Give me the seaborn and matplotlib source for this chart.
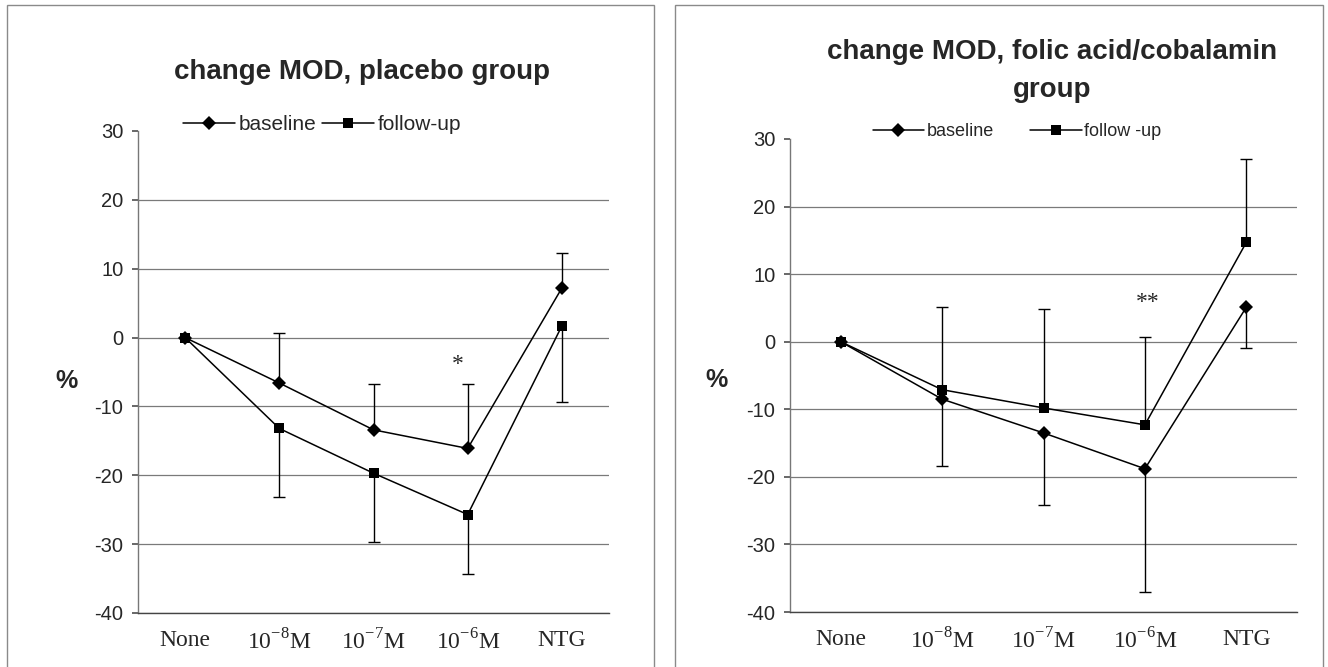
import numpy as np
import pandas as pd
import matplotlib
matplotlib.use("Agg")
import matplotlib.pyplot as plt
from matplotlib.lines import Line2D
from matplotlib.patches import Rectangle
import seaborn as sns

# ---------------- data ----------------
categories = ["None", "1e-8", "1e-7", "1e-6", "NTG"]
tick_labels = ["None", r"10$^{\mathregular{-8}}$M", r"10$^{\mathregular{-7}}$M",
               r"10$^{\mathregular{-6}}$M", "NTG"]
series_names = ["baseline", "follow-up"]
legend_labels_right = ["baseline", "follow -up"]

# placebo group
placebo_baseline = [0, -6.6, -13.4, -16.1, 7.2]
placebo_followup = [0, -13.2, -19.7, -25.7, 1.7]
placebo_baseline_upper = [np.nan, 0.7, -6.8, -6.8, 12.3]      # upward error ends
placebo_followup_lower = [np.nan, -23.1, -29.7, -34.4, -9.4]  # downward error ends

# folic acid / cobalamin group
folic_baseline = [0, -8.5, -13.5, -18.8, 5.1]
folic_followup = [0, -7.1, -9.8, -12.3, 14.7]
folic_followup_upper = [np.nan, 5.1, 4.8, 0.75, 27.0]
folic_baseline_lower = [np.nan, -18.4, -24.2, -37.1, -1.0]

titles = ["change MOD, placebo group", "change MOD, folic acid/cobalamin\ngroup"]
sig_marks = ["*", "**"]
y_ticks = [-40, -30, -20, -10, 0, 10, 20, 30]

# ---------------- style ----------------
sns.set_theme(style="white")
plt.rcParams["font.family"] = ["Liberation Sans", "DejaVu Sans"]
plt.rcParams["mathtext.fontset"] = "custom"
plt.rcParams["mathtext.rm"] = "Liberation Serif"

W, H = 1328, 667
fig = plt.figure(figsize=(W / 100, H / 100), dpi=100)
fig.patch.set_facecolor("white")

def fx(px):
    return px / W

def fy(py):
    return 1 - py / H

# panel frames
for x0, x1 in [(7, 654), (675, 1323)]:
    fig.patches.append(Rectangle((fx(x0), -0.01), fx(x1 - x0), fy(5) + 0.01,
                                 transform=fig.transFigure, fill=False,
                                 edgecolor="#8a8a8a", lw=1.0, zorder=0))

axes_px = [(138, 131, 609, 613), (790, 139, 1297, 612)]
panels = [
    dict(base=placebo_baseline, fol=placebo_followup,
         base_err=("up", placebo_baseline_upper), fol_err=("down", placebo_followup_lower),
         sig_x=2.9, sig_y=-3.9),
    dict(base=folic_baseline, fol=folic_followup,
         base_err=("down", folic_baseline_lower), fol_err=("up", folic_followup_upper),
         sig_x=3.03, sig_y=5.8),
]

positions = np.arange(len(categories))

for i, (pdef, (l, t, r, b)) in enumerate(zip(panels, axes_px)):
    ax = fig.add_axes([fx(l), fy(b), fx(r - l), (b - t) / H])
    ax.set_facecolor("white")

    df = pd.DataFrame({
        "pos": np.concatenate([positions, positions]),
        "value": pdef["base"] + pdef["fol"],
        "series": [series_names[0]] * len(categories) + [series_names[1]] * len(categories),
    })
    sns.lineplot(data=df[df.series == "baseline"], x="pos", y="value",
                 marker="D", color="black", linewidth=1.1, markersize=6.8,
                 markeredgewidth=0, legend=False, ax=ax, zorder=4)
    sns.lineplot(data=df[df.series == "follow-up"], x="pos", y="value",
                 marker="s", color="black", linewidth=1.1, markersize=7.8,
                 markeredgewidth=0, legend=False, ax=ax, zorder=4)

    # one-sided error bars
    for vals, (direction, ends) in [(pdef["base"], pdef["base_err"]),
                                    (pdef["fol"], pdef["fol_err"])]:
        vals = np.asarray(vals, float)
        ends = np.asarray(ends, float)
        mask = ~np.isnan(ends)
        diff = np.abs(ends[mask] - vals[mask])
        zeros = np.zeros_like(diff)
        yerr = [zeros, diff] if direction == "up" else [diff, zeros]
        _, caps, _ = ax.errorbar(positions[mask], vals[mask], yerr=yerr, fmt="none",
                                 ecolor="black", elinewidth=1.0, capsize=4.5,
                                 capthick=1.0, zorder=3)
        if direction == "up":
            caps[0].set_visible(False)
        else:
            caps[1].set_visible(False)

    ax.set_xlim(-0.5, len(categories) - 0.5)
    ax.set_ylim(-40, 30)
    ax.set_yticks(y_ticks)
    ax.set_yticklabels([str(v) for v in y_ticks], fontsize=14.5)
    ax.set_xticks(positions)
    ax.set_xticklabels(tick_labels, fontsize=17, family="Liberation Serif")
    ax.set_xticks(np.arange(len(categories) + 1) - 0.5, minor=True)
    ax.tick_params(axis="x", which="major", length=0, pad=12)
    ax.tick_params(axis="x", which="minor", length=3, direction="in", color="#555555")
    ax.tick_params(axis="y", which="major", length=4.5, direction="out", color="#555555",
                   left=True, pad=6)
    ax.set_xlabel("")
    ax.set_ylabel("")

    ax.grid(axis="y", color="#7a7a7a", lw=0.9)
    ax.grid(axis="x", visible=False)
    ax.set_axisbelow(True)
    ax.get_ygridlines()[-1].set_visible(False)

    for side in ["top", "right"]:
        ax.spines[side].set_visible(False)
    ax.spines["left"].set_color("#777777")
    ax.spines["bottom"].set_color("#444444")
    ax.spines["left"].set_linewidth(1.0)
    ax.spines["bottom"].set_linewidth(1.0)

    ax.text(pdef["sig_x"], pdef["sig_y"], sig_marks[i], ha="center", va="center",
            fontsize=17, family="Liberation Serif")

# titles
fig.text(fx(362), fy(72), titles[0], ha="center", va="center",
         fontsize=20, fontweight="bold")
fig.text(fx(1052), fy(71), titles[1], ha="center", va="center",
         fontsize=20, fontweight="bold", linespacing=1.6)

# % labels
fig.text(fx(66), fy(381), "%", ha="center", va="center", fontsize=18, fontweight="bold")
fig.text(fx(716), fy(380), "%", ha="center", va="center", fontsize=18, fontweight="bold")

# legends
def legend_handles(ms_d, ms_s):
    return [Line2D([], [], color="black", marker="D", markersize=ms_d, lw=1.1, markeredgewidth=0),
            Line2D([], [], color="black", marker="s", markersize=ms_s, lw=1.1, markeredgewidth=0)]

fig.legend(legend_handles(6.8, 7.8), series_names, loc="center",
           bbox_to_anchor=(fx(322), fy(125)), ncol=2, frameon=False, fontsize=15,
           handlelength=2.5, handletextpad=0.15, columnspacing=0.3, borderpad=0)
fig.legend(legend_handles(6.8, 7.8), legend_labels_right, loc="center",
           bbox_to_anchor=(fx(1017), fy(132)), ncol=2, frameon=False, fontsize=13,
           handlelength=2.85, handletextpad=0.15, columnspacing=2.0, borderpad=0)

fig.savefig("out.png", dpi=100, facecolor="white")
